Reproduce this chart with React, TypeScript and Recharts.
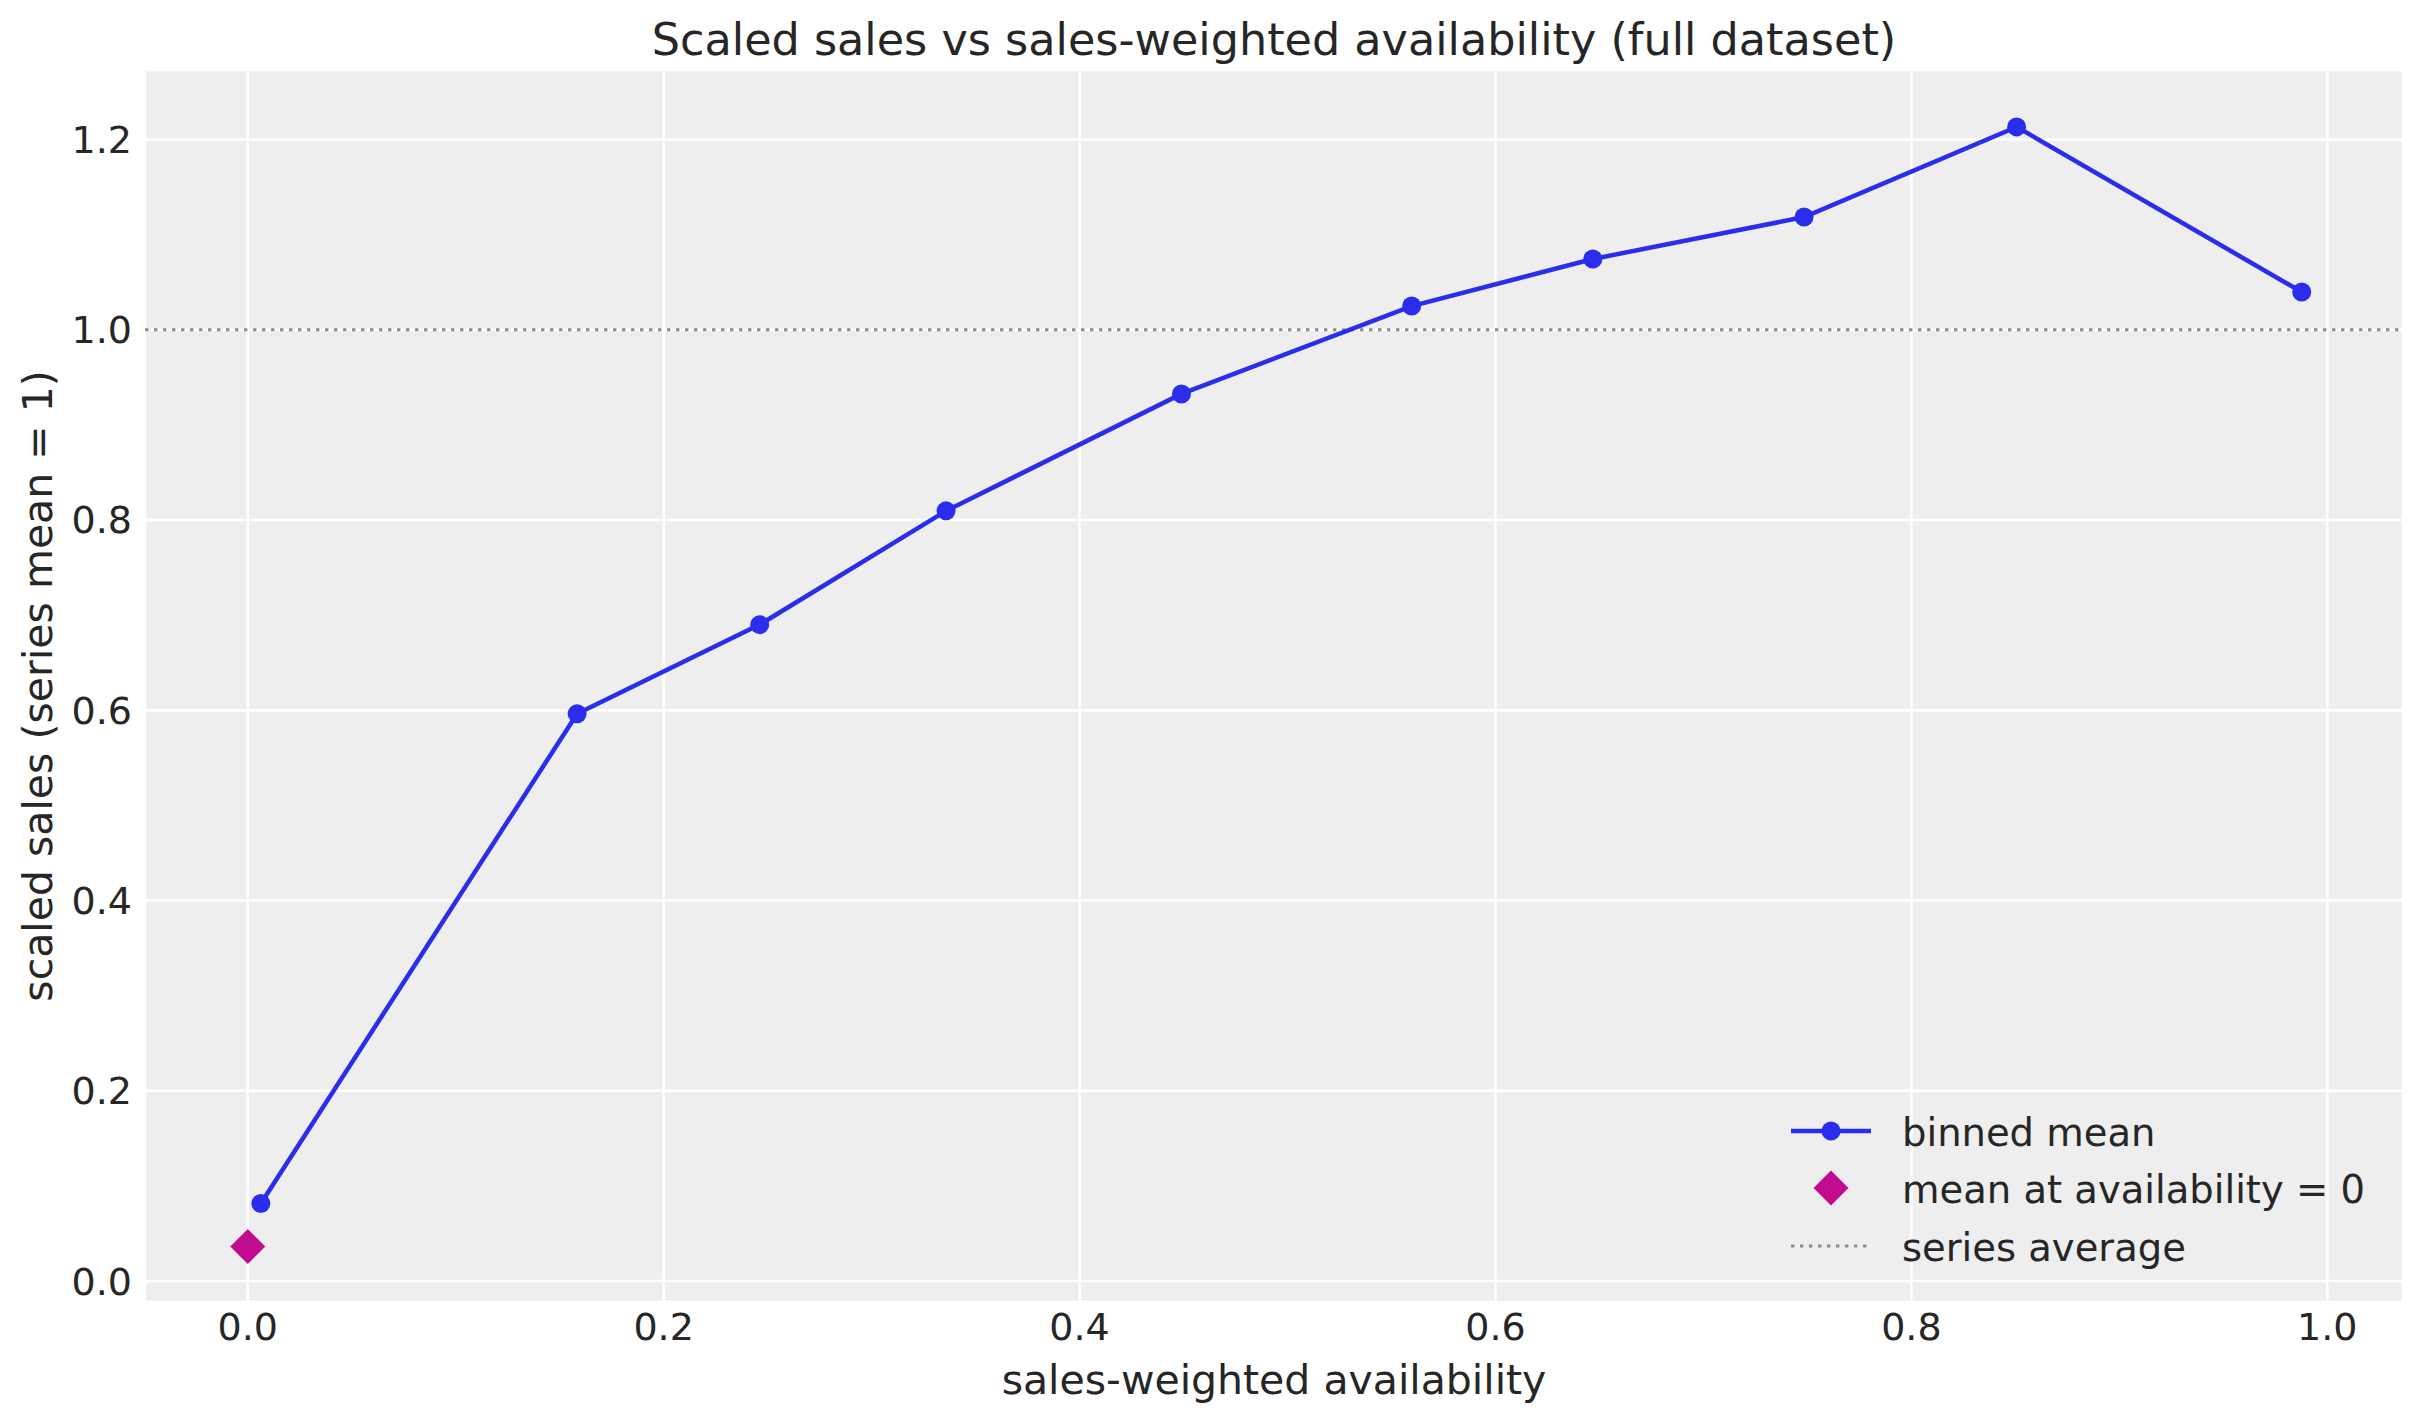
import { ScatterChart, Scatter, XAxis, YAxis, CartesianGrid, ReferenceLine, Legend, Label } from 'recharts';

// binned means of scaled sales against sales-weighted availability
const binX = [0.0063, 0.1584, 0.2462, 0.3358, 0.449, 0.5597, 0.6468, 0.7484, 0.8506, 0.9877];
const binY = [0.0816, 0.5963, 0.69, 0.8096, 0.9325, 1.0249, 1.0743, 1.1184, 1.2132, 1.0396];
const zeroX = [0];
const zeroY = [0.0364];
const seriesAverage = 1;

const xTicks = [0, 0.2, 0.4, 0.6, 0.8, 1.0];
const yTicks = [0, 0.2, 0.4, 0.6, 0.8, 1.0, 1.2];
const legendNames = ['binned mean', 'mean at availability = 0', 'series average'];

const binned = binX.map((x, i) => ({ x, y: binY[i] }));
const zero = zeroX.map((x, i) => ({ x, y: zeroY[i] }));

const BLUE = '#2a2eec';
const MAGENTA = '#c10c90';
const GREY = '#8c8c8c';
const TEXT = '#262626';
const FONT = 'DejaVu Sans';

const Dot = (p: any) => <circle cx={p.cx} cy={p.cy} r={9.5} fill={BLUE} />;
const Diamond = (p: any) => {
  const s = 17.5;
  return <polygon points={`${p.cx},${p.cy - s} ${p.cx + s},${p.cy} ${p.cx},${p.cy + s} ${p.cx - s},${p.cy}`} fill={MAGENTA} />;
};

function LegendBox() {
  const rows = [36, 93, 151];
  return (
    <svg width={700} height={190} style={{ display: 'block' }}>
      <line x1={11} x2={91} y1={rows[0]} y2={rows[0]} stroke={BLUE} strokeWidth={4.5} />
      <circle cx={51} cy={rows[0]} r={9.5} fill={BLUE} />
      <polygon points={`51,${rows[1] - 17.5} 68.5,${rows[1]} 51,${rows[1] + 17.5} 33.5,${rows[1]}`} fill={MAGENTA} />
      <line x1={11} x2={91} y1={rows[2]} y2={rows[2]} stroke={GREY} strokeWidth={3} strokeDasharray="3.4 5.6" />
      {legendNames.map((n, i) => (
        <text key={n} x={122} y={rows[i] + 14.5} fontSize={38.5} fontFamily={FONT} fill={TEXT}>{n}</text>
      ))}
    </svg>
  );
}

export default function App() {
  const tick = { fill: TEXT, fontSize: 38, fontFamily: FONT };
  return (
    <div style={{ position: 'absolute', left: 0, top: 0, width: 2423, height: 1423, background: '#fff' }}>
      <div style={{ position: 'absolute', left: 145, width: 2258, top: 17, textAlign: 'center', fontFamily: FONT, fontSize: 44.5, lineHeight: '45px', color: TEXT, whiteSpace: 'nowrap' }}>
        Scaled sales vs sales-weighted availability (full dataset)
      </div>
      <ScatterChart width={2423} height={1423} margin={{ top: 70, right: 20, bottom: 0, left: 0 }}>
        <CartesianGrid fill="#eeeeee" stroke="#ffffff" strokeWidth={2.5} />
        <XAxis type="number" dataKey="x" domain={[-0.0494, 1.0364]} ticks={xTicks} allowDataOverflow
          tickFormatter={(v: number) => v.toFixed(1)} height={121} tickSize={0} tickMargin={11}
          axisLine={false} tickLine={false} tick={tick}>
          <Label value="sales-weighted availability" position="insideBottom" offset={29}
            style={{ fontSize: 41, fontFamily: FONT, fill: TEXT }} />
        </XAxis>
        <YAxis type="number" dataKey="y" domain={[-0.022, 1.273]} ticks={yTicks} allowDataOverflow
          tickFormatter={(v: number) => v.toFixed(1)} width={145} tickSize={0} tickMargin={13}
          axisLine={false} tickLine={false} tick={tick}>
          <Label content={(props: any) => {
            const vb = props.viewBox || { y: 70, height: 1232 };
            const cy = vb.y + vb.height / 2;
            return (
              <text x={52} y={cy} transform={`rotate(-90, 52, ${cy})`} textAnchor="middle"
                fontSize={41} fontFamily={FONT} fill={TEXT}>scaled sales (series mean = 1)</text>
            );
          }} />
        </YAxis>
        <ReferenceLine y={seriesAverage} stroke={GREY} strokeWidth={3} strokeDasharray="3.4 5.6" />
        <Scatter name={legendNames[0]} data={binned} fill={BLUE} line={{ stroke: BLUE, strokeWidth: 4.5 }}
          shape={Dot} isAnimationActive={false} />
        <Scatter name={legendNames[1]} data={zero} fill={MAGENTA} shape={Diamond} isAnimationActive={false} />
        <Legend layout="vertical" align="center" verticalAlign="middle" content={() => <LegendBox />}
          wrapperStyle={{ left: 1780, top: 1095, width: 700, height: 190 }} />
      </ScatterChart>
    </div>
  );
}
